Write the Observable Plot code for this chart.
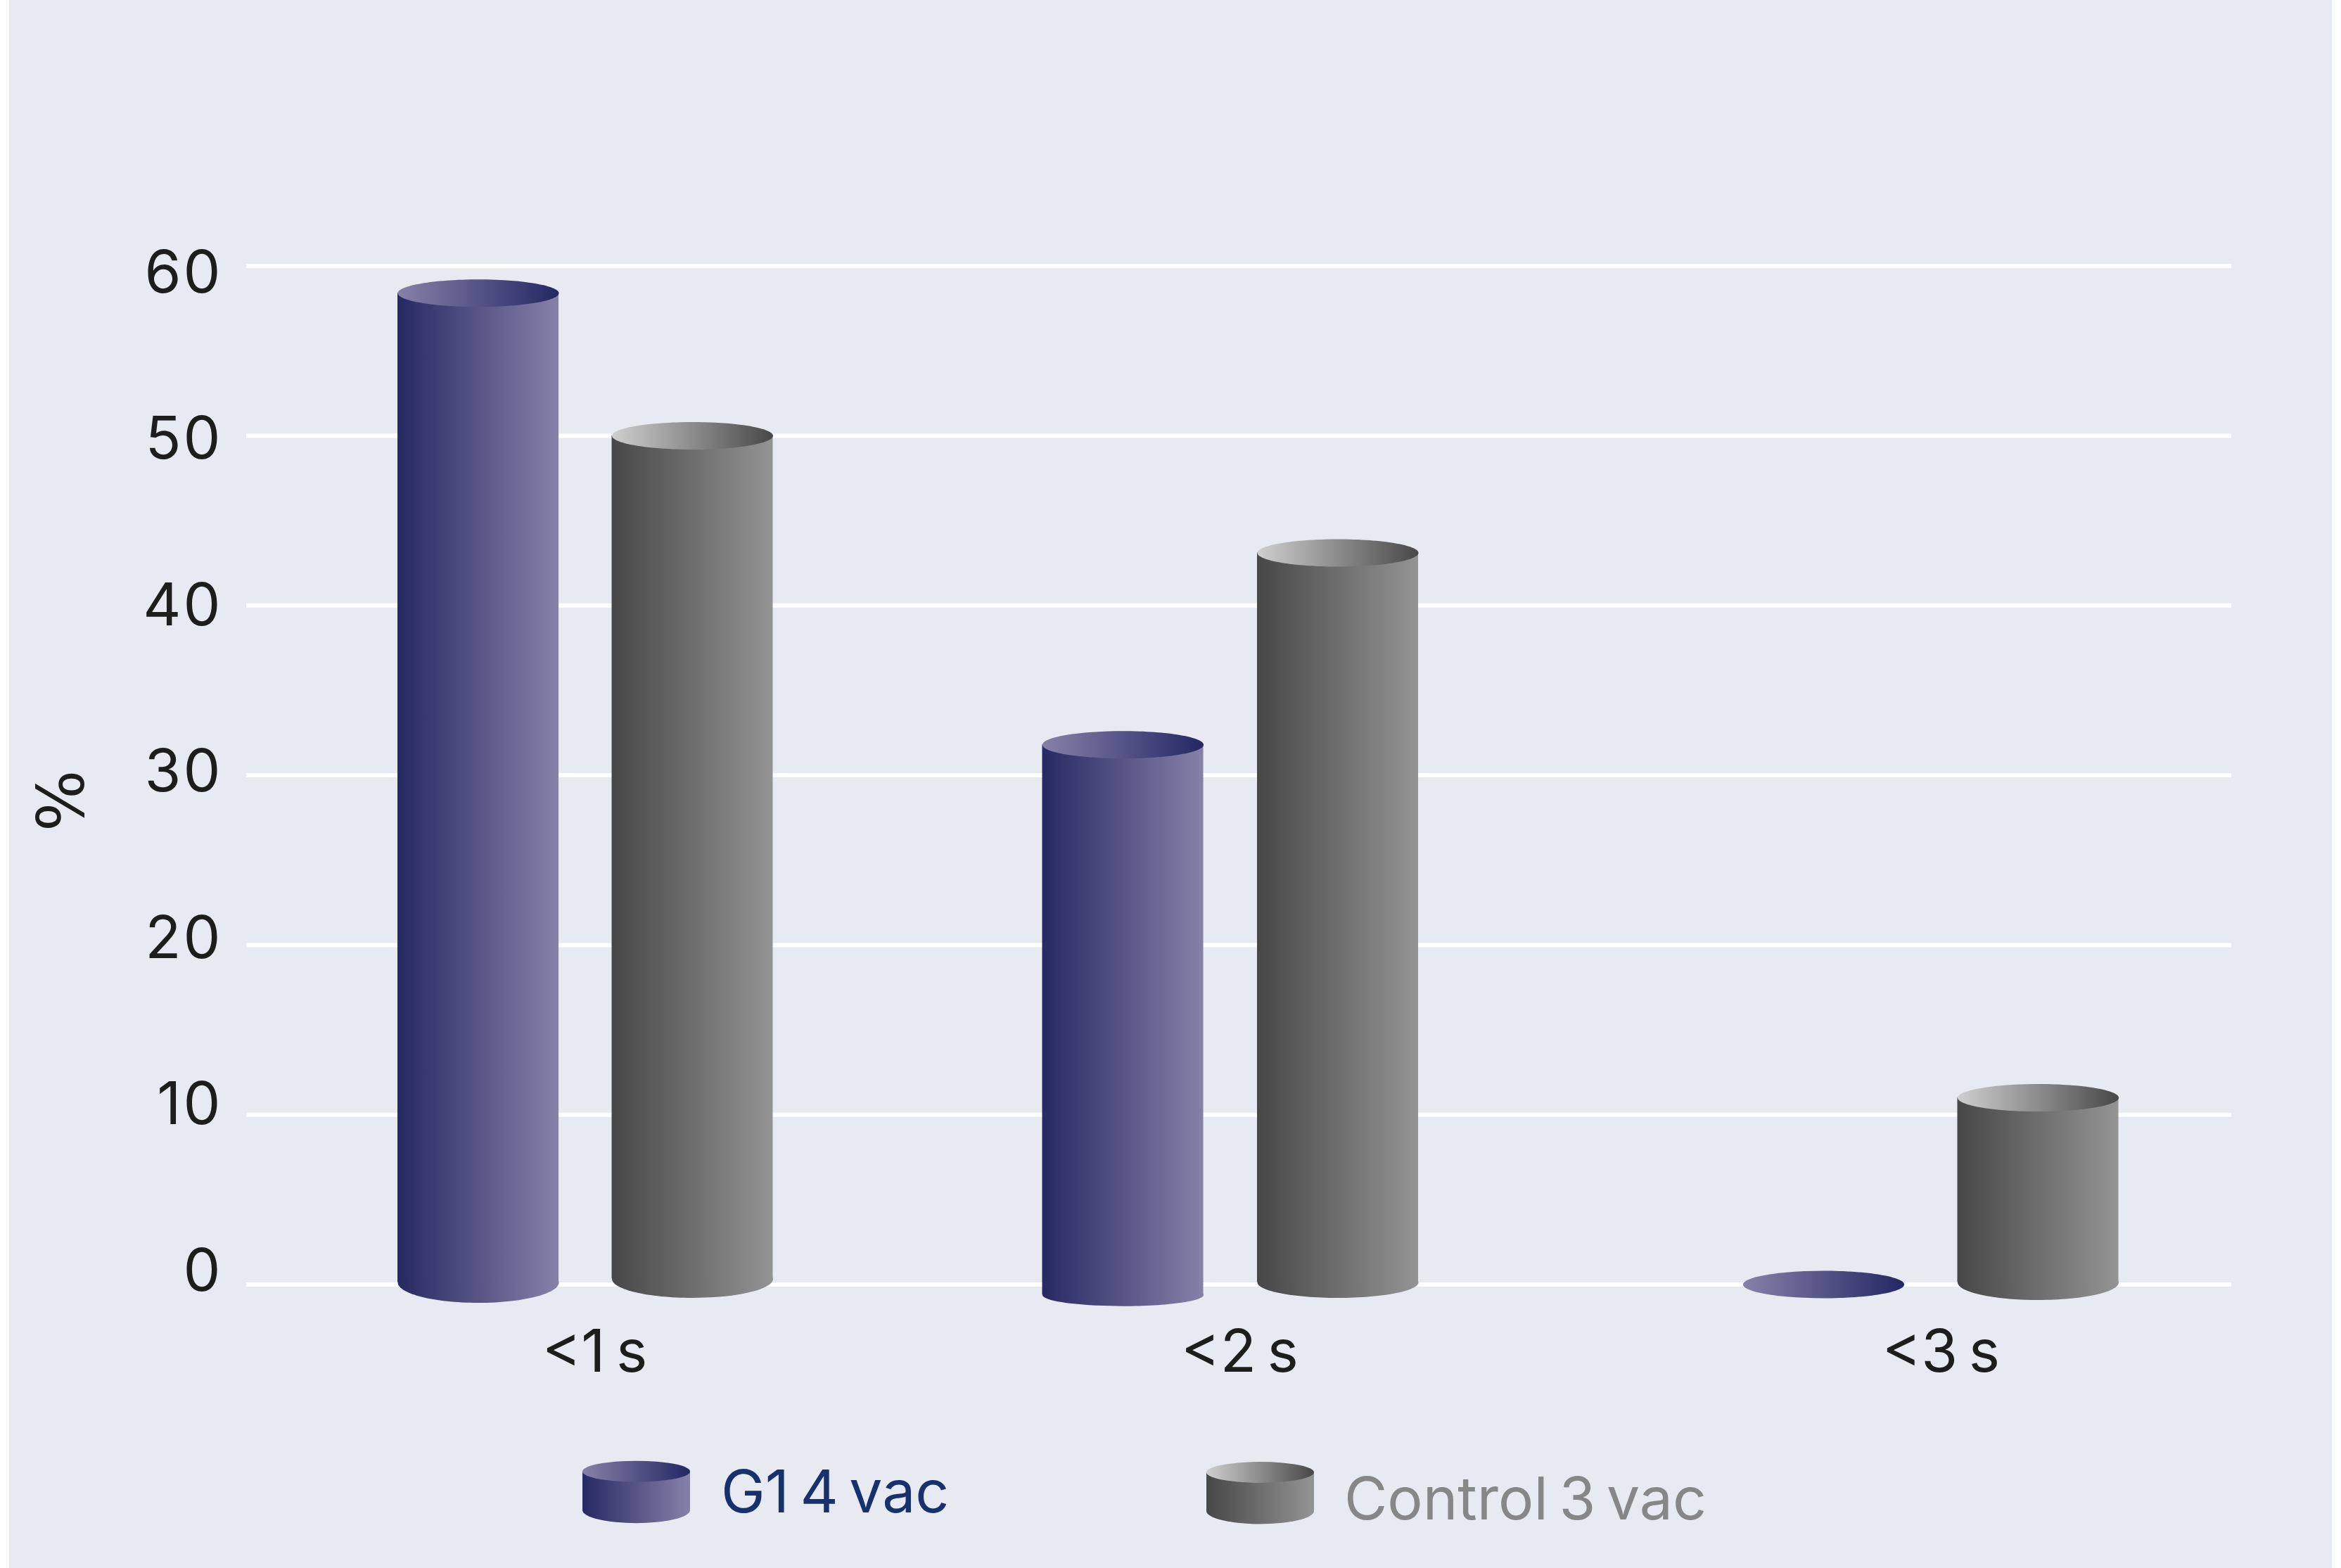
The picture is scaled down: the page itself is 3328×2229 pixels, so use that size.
<!DOCTYPE html>
<html>
<head>
<meta charset="utf-8">
<script src="https://cdn.jsdelivr.net/npm/d3@7"></script>
<script src="https://cdn.jsdelivr.net/npm/@observablehq/plot@0.6"></script>
<style>
  html, body { margin: 0; padding: 0; background: #ffffff; width: 3328px; height: 2229px; overflow: hidden; }
  #panel { position: absolute; left: 13px; top: 0; width: 3302px; height: 2229px; background: #e7eaf1; }
  #chart { position: absolute; left: 0; top: 0; width: 3328px; }
  #chart svg, #legend svg { display: block; background: transparent; }
  #chart text, #legend text { word-spacing: -8px; }
  #legend { position: absolute; left: 0; top: 2040px; width: 3328px; height: 189px; }
</style>
</head>
<body>
<div id="panel"></div>
<svg width="0" height="0" style="position:absolute">
  <defs>
    <linearGradient id="g1Body"><stop offset="0" stop-color="#262962"/><stop offset="1" stop-color="#8681a9"/></linearGradient>
    <linearGradient id="g1Top"><stop offset="0" stop-color="#8681a9"/><stop offset="1" stop-color="#232763"/></linearGradient>
    <linearGradient id="ctlBody"><stop offset="0" stop-color="#474747"/><stop offset="1" stop-color="#949494"/></linearGradient>
    <linearGradient id="ctlTop"><stop offset="0" stop-color="#cfcfcf"/><stop offset="1" stop-color="#484848"/></linearGradient>
  </defs>
</svg>
<div id="chart"></div>
<div id="legend"></div>
<script>
// ---- data ----
const categories = ["<1 s", "<2 s", "<3 s"];
const g1Values = [58.4, 31.8, 0];
const controlValues = [50, 43.1, 11];
const yTicks = [0, 10, 20, 30, 40, 50, 60];
const seriesNames = ["G1 4 vac", "Control 3 vac"];

// ---- layout (not data) ----
const FONT = "Inter, 'Noto Sans', sans-serif";
const INK = "#1d1d1b";
const BAR_W = 229, TOP_RY = 19.5;
const y0 = 1825.5, y60 = 377.7;
const gridX = [350, 3172];
const g1Center = [679.5, 1596, 2592];
const ctlCenter = [984, 1901.5, 2897];
const labelCenter = [845, 1762, 2759];
// distance of the body's lower corners from the baseline, and depth of the bottom curve
const g1Bottom = [{corner: -3, ry: 29}, {corner: 14.7, ry: 16}, null];
const ctlBottom = [{corner: -8, ry: 27}, {corner: -3, ry: 22}, {corner: -3, ry: 25}];

const ellipse = (rx, ry) => ({
  draw(c) {
    const k = 0.5523;
    c.moveTo(-rx, 0);
    c.bezierCurveTo(-rx, -ry * k, -rx * k, -ry, 0, -ry);
    c.bezierCurveTo(rx * k, -ry, rx, -ry * k, rx, 0);
    c.bezierCurveTo(rx, ry * k, rx * k, ry, 0, ry);
    c.bezierCurveTo(-rx * k, ry, -rx, ry * k, -rx, 0);
    c.closePath();
  }
});

function cylinder(value, center, bottom, bodyFill, topFill) {
  const row = [{value, center}];
  const marks = [];
  if (bottom) {
    marks.push(Plot.dot(row, {
      x: "center", y: 0, r: 1, dy: bottom.corner,
      symbol: ellipse(BAR_W / 2, bottom.ry), fill: bodyFill, stroke: "none"
    }));
    marks.push(Plot.rectY(row, {
      x1: d => d.center - BAR_W / 2, x2: d => d.center + BAR_W / 2,
      y1: 0, y2: "value", insetBottom: -bottom.corner, fill: bodyFill
    }));
  }
  marks.push(Plot.dot(row, {
    x: "center", y: "value", r: 1,
    symbol: ellipse(BAR_W / 2, TOP_RY), fill: topFill, stroke: "none"
  }));
  return marks;
}

const chart = Plot.plot({
  width: 3328,
  height: 2040,
  marginTop: 0, marginRight: 0, marginBottom: 0, marginLeft: 0,
  style: {background: "transparent", fontFamily: FONT},
  x: {type: "linear", domain: [0, 3328], range: [0, 3328], axis: null},
  y: {type: "linear", domain: [0, 60], range: [y0, y60], axis: null},
  marks: [
    Plot.ruleY(yTicks, {x1: gridX[0], x2: gridX[1], y: d => d, stroke: "#ffffff", strokeWidth: 6}),
    ...g1Values.flatMap((v, i) => cylinder(v, g1Center[i], g1Bottom[i], "url(#g1Body)", "url(#g1Top)")),
    ...controlValues.flatMap((v, i) => cylinder(v, ctlCenter[i], ctlBottom[i], "url(#ctlBody)", "url(#ctlTop)")),
    // y tick labels sit on a slightly tighter spacing than the grid in the reference
    Plot.text(yTicks, {
      x: 316, y: d => 0.75 + 0.98 * d, text: d => String(d),
      textAnchor: "end", fontSize: 84, fill: INK, fontFamily: FONT
    }),
    Plot.text(categories, {
      x: (d, i) => labelCenter[i], y: 0, dy: 124, text: d => d,
      lineAnchor: "bottom", textAnchor: "middle", fontSize: 84, fill: INK, fontFamily: FONT
    }),
    Plot.text(["%"], {
      x: 89, y: 28.5, text: d => d, rotate: -90, fontSize: 92, fill: INK, fontFamily: "'DejaVu Sans', sans-serif"
    })
  ]
});
document.getElementById("chart").append(chart);
// the reference's numerals run a little wider than Inter's
d3.select(chart).selectAll("text").filter(function () { return /^\d+$/.test(this.textContent); }).attr("letter-spacing", 3);

// ---- legend, below the chart's SVG ----
const legend = d3.select("#legend").append("svg").attr("width", 3328).attr("height", 189);
const legendTop = 2040;
function legendEntry(name, x0, x1, topY, cornerY, bottomRy, bodyFill, topFill, tx, baseline, color) {
  const cx = (x0 + x1) / 2, rx = (x1 - x0) / 2;
  legend.append("ellipse").attr("cx", cx).attr("cy", cornerY - legendTop).attr("rx", rx).attr("ry", bottomRy).attr("fill", bodyFill);
  legend.append("rect").attr("x", x0).attr("y", topY - legendTop).attr("width", x1 - x0).attr("height", cornerY - topY).attr("fill", bodyFill);
  legend.append("ellipse").attr("cx", cx).attr("cy", topY - legendTop).attr("rx", rx).attr("ry", 15).attr("fill", topFill);
  legend.append("text").attr("x", tx).attr("y", baseline - legendTop).attr("fill", color)
    .attr("font-family", FONT).attr("font-size", 84).text(name);
}
legendEntry(seriesNames[0], 828, 981, 2091.7, 2146.7, 18.5, "url(#g1Body)", "url(#g1Top)", 1025, 2150, "#17316f");
legendEntry(seriesNames[1], 1715, 1868, 2093, 2148, 18.5, "url(#ctlBody)", "url(#ctlTop)", 1911, 2160, "#878787");
</script>
</body>
</html>
